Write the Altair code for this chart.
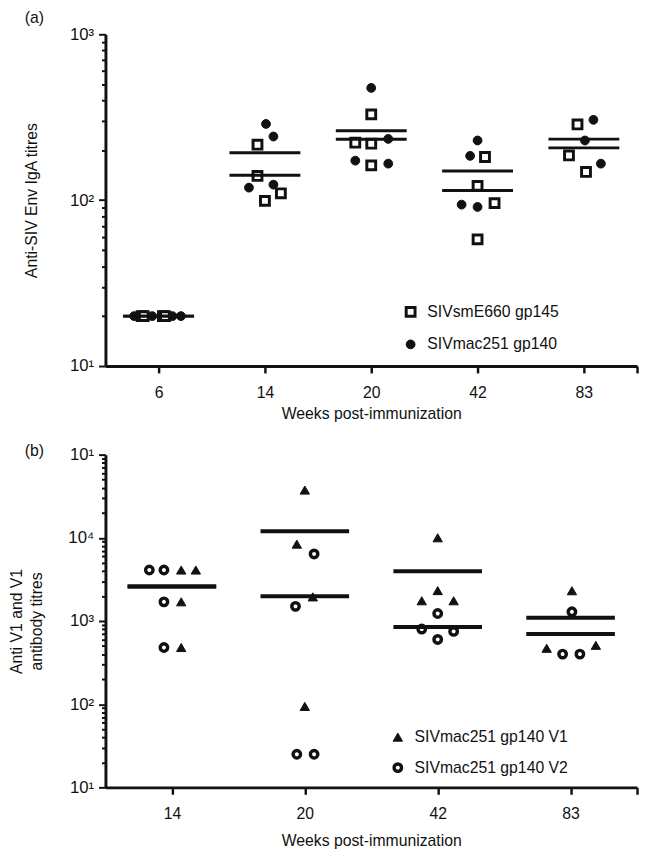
import json
import pandas as pd
import altair as alt

FONT = "Liberation Sans"
INK = "#111111"

# ---------------- Panel (a): anti-SIV Env IgA titres ----------------
weeks_a = ["6", "14", "20", "42", "83"]
series_a = ["SIVsmE660 gp145", "SIVmac251 gp140"]

sq_group = [0, 0, 0, 0, 1, 1, 1, 1, 2, 2, 2, 2, 3, 3, 3, 3, 4, 4, 4]
sq_titre = [20, 20, 20, 20, 216, 140, 99, 110, 329, 222, 219, 162, 182, 122, 96, 58, 286, 186, 148]
sq_jitter = [-0.16, -0.14, 0.04, 0.06, -0.07, -0.07, 0.0, 0.15, 0.0, -0.15, 0.0, 0.0,
             0.07, 0.0, 0.16, 0.0, -0.06, -0.14, 0.02]

ci_group = [0, 0, 0, 0, 1, 1, 1, 1, 2, 2, 2, 2, 3, 3, 3, 3, 4, 4, 4]
ci_titre = [20, 20, 20, 20, 288, 242, 119, 124, 475, 234, 173, 166, 229, 185, 94, 91, 305, 229, 166]
ci_jitter = [-0.23, -0.06, 0.13, 0.21, 0.01, 0.08, -0.15, 0.08, 0.0, 0.16, -0.15, 0.16,
             0.0, -0.07, -0.15, 0.0, 0.09, 0.01, 0.16]

# ---------------- Panel (b): anti V1 / V2 antibody titres ----------------
weeks_b = ["14", "20", "42", "83"]
series_b = ["SIVmac251 gp140 V1", "SIVmac251 gp140 V2"]

v1_group = [0, 0, 0, 0, 1, 1, 1, 1, 2, 2, 2, 2, 3, 3, 3]
v1_titre = [4100, 4100, 1700, 480, 37500, 8400, 1950, 94, 10000, 2320, 1750, 1750, 2310, 470, 510]
v1_jitter = [0.07, 0.18, 0.07, 0.07, 0.0, -0.06, 0.06, 0.0, 0.0, 0.0, -0.12, 0.12, 0.01, -0.18, 0.19]

v2_group = [0, 0, 0, 0, 1, 1, 1, 1, 2, 2, 2, 2, 3, 3, 3]
v2_titre = [4100, 4100, 1700, 480, 6400, 1500, 25, 25, 1230, 800, 750, 600, 1290, 400, 400]
v2_jitter = [-0.17, -0.06, -0.06, -0.06, 0.07, -0.07, -0.06, 0.07, 0.0, -0.12, 0.12, 0.0, 0.01, -0.06, 0.07]


def frame(groups, titres, jitters, name):
    d = pd.DataFrame({"group": groups, "titre": titres, "jitter": jitters})
    d["series"] = name
    d["xpos"] = d["group"] + d["jitter"]
    return d


df_a = pd.concat([frame(sq_group, sq_titre, sq_jitter, series_a[0]),
                  frame(ci_group, ci_titre, ci_jitter, series_a[1])], ignore_index=True)
df_b = pd.concat([frame(v1_group, v1_titre, v1_jitter, series_b[0]),
                  frame(v2_group, v2_titre, v2_jitter, series_b[1])], ignore_index=True)


def make_panel(df, labels, series, shapes, fills, sizes, strokes, ydomain, ylabels,
               ytitle, ytitle_pad, xtitle_pad, title_text, title_offset, leg_x, leg_y,
               leg_rowpad, rule_w, height):
    n = len(labels)
    xvals = list(range(n)) + [n - 0.5]
    xlabel_expr = "datum.value % 1 != 0 ? '' : " + json.dumps(labels) + "[datum.value]"

    lo, hi = ydomain
    decades = []
    v = lo
    while v <= hi:
        decades.append(v)
        v *= 10
    yvals = [m * d for d in decades[:-1] for m in range(1, 10)] + [decades[-1]]
    ylabel_expr = " : ".join(
        "datum.value == %s ? '%s'" % (d, lab) for d, lab in zip(decades, ylabels)) + " : ''"
    tick_cond = {"condition": {"test": "indexof(%s, datum.value) >= 0" % json.dumps(decades),
                               "value": 7}, "value": 4}

    xscale = alt.Scale(domain=[-0.5, n - 0.5], nice=False, zero=False)
    yscale = alt.Scale(type="log", domain=list(ydomain), nice=False)
    xaxis = alt.Axis(values=xvals, labelExpr=xlabel_expr, title="Weeks post-immunization",
                     grid=False, tickSize=7, tickWidth=2.5, domainWidth=3,
                     labelPadding=12, titlePadding=xtitle_pad, labelFlush=False, labelOverlap=False)
    yaxis = alt.Axis(values=yvals, labelExpr=ylabel_expr, title=ytitle, grid=False,
                     tickSize=tick_cond, tickWidth=2, domainWidth=3, labelPadding=5,
                     labelFontSize=17,
                     titlePadding=ytitle_pad, titleLineHeight=20, labelOverlap=False,
                     labelFlush=False)

    leg = alt.Legend(orient="none", legendX=leg_x, legendY=leg_y, title=None,
                     labelFontSize=16, rowPadding=leg_rowpad, labelOffset=9, padding=0,
                     symbolStrokeColor=INK)

    pts = alt.Chart(df).mark_point(opacity=1, fillOpacity=1).encode(
        x=alt.X("xpos:Q", scale=xscale, axis=xaxis),
        y=alt.Y("titre:Q", scale=yscale, axis=yaxis),
        shape=alt.Shape("series:N", scale=alt.Scale(domain=series, range=shapes), legend=leg),
        fill=alt.Fill("series:N", scale=alt.Scale(domain=series, range=fills), legend=leg),
        stroke=alt.Stroke("series:N", scale=alt.Scale(domain=series, range=[INK, INK]), legend=leg),
        size=alt.Size("series:N", scale=alt.Scale(domain=series, range=sizes), legend=leg),
        strokeWidth=alt.StrokeWidth("series:N", scale=alt.Scale(domain=series, range=strokes),
                                    legend=leg),
    )

    rules = alt.Chart(df).transform_aggregate(
        mean_titre="mean(titre)", groupby=["group", "series"]
    ).transform_calculate(
        xa="datum.group - 1/3", xb="datum.group + 1/3"
    ).mark_rule(color=INK, strokeWidth=rule_w).encode(
        x=alt.X("xa:Q", scale=xscale, axis=xaxis),
        x2="xb:Q",
        y=alt.Y("mean_titre:Q", scale=yscale, axis=yaxis),
    )

    return alt.layer(pts, rules).properties(
        width=540, height=height,
        title=alt.TitleParams(title_text, anchor="start", frame="group", dx=-82,
                              offset=title_offset, fontSize=16, fontWeight="normal",
                              font=FONT, color=INK),
    )


panel_a = make_panel(df_a, weeks_a, series_a, ["square", "circle"], ["white", INK], [81, 80], [3, 1],
                     (10, 1000), ["10¹", "10²", "10³"], "Anti-SIV Env IgA titres", 30, 5,
                     "(a)", -1, 302, 274, 14, 3, 337)
panel_b = make_panel(df_b, weeks_b, series_b, ["triangle-up", "circle"], [INK, "white"], [90, 57], [1, 3.5],
                     (10, 100000), ["10¹", "10²", "10³", "10⁴", "10¹"],
                     ["Anti V1 and V1", "antibody titres"], 24, 11,
                     "(b)", -13, 289, 279, 12, 4, 338)

chart = alt.vconcat(panel_a, panel_b, spacing=22).resolve_scale(
    shape="independent", fill="independent", stroke="independent",
    size="independent", strokeWidth="independent"
).resolve_legend(
    shape="independent", fill="independent", stroke="independent",
    size="independent", strokeWidth="independent"
).properties(
    padding={"left": 0, "top": -4, "right": 0, "bottom": 0}
).configure_view(stroke=None).configure_axis(
    labelFont=FONT, titleFont=FONT, labelFontSize=16, titleFontSize=16,
    titleFontWeight="normal", labelColor=INK, titleColor=INK,
    domainColor=INK, tickColor=INK
).configure_legend(labelFont=FONT, labelFontSize=16, labelColor=INK)

chart.save("out.html", embed_options={"renderer": "svg", "actions": False})
